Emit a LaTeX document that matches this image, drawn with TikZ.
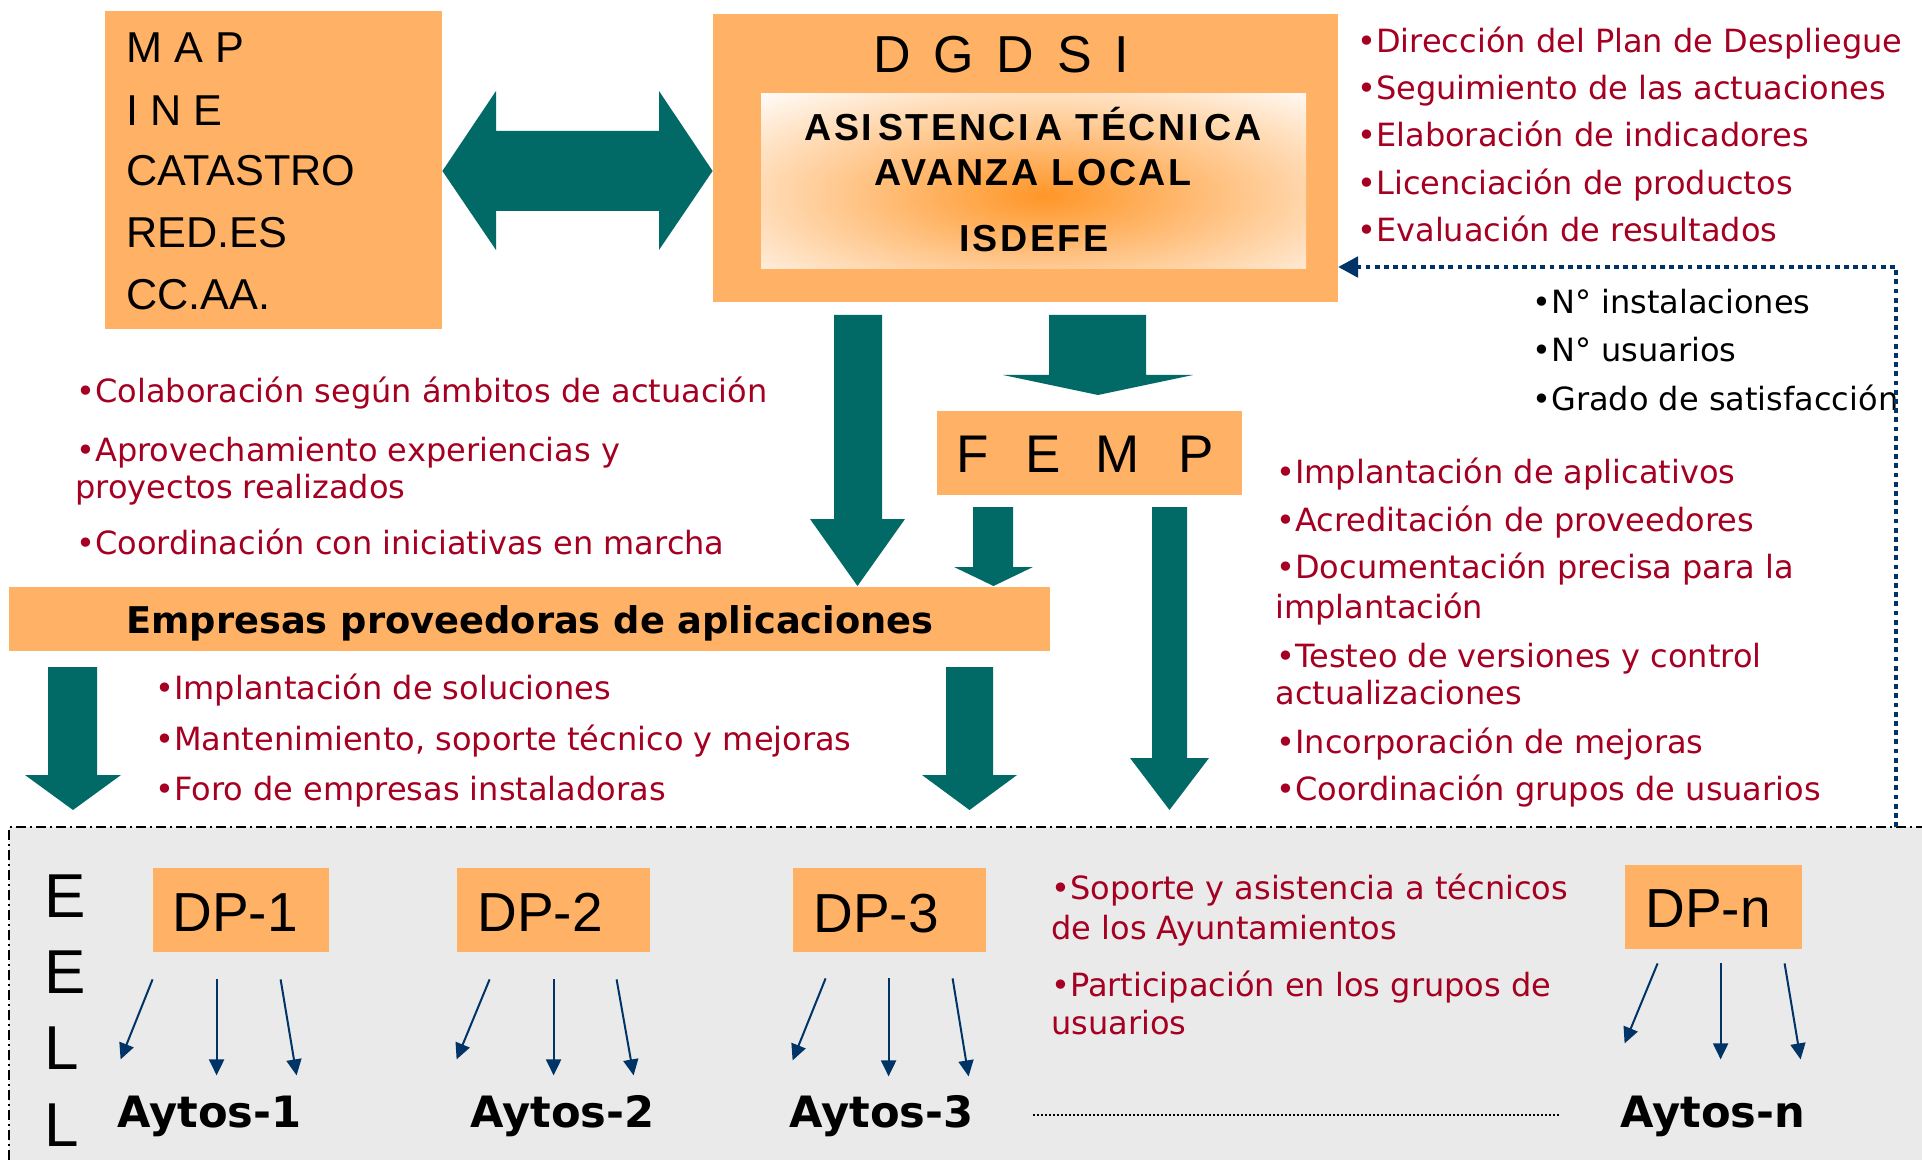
\documentclass[tikz,border=0pt]{standalone}
\usepackage{fontspec}
\setmainfont{DejaVu Sans}
\newfontfamily\libfont{Liberation Sans}
\newfontfamily\libsp[LetterSpace=7]{Liberation Sans}
\usetikzlibrary{arrows.meta,fit}
\definecolor{orng}{RGB}{255,177,102}
\definecolor{tealb}{RGB}{2,106,102}
\definecolor{redt}{RGB}{165,0,33}
\definecolor{dblue}{RGB}{0,51,102}
\definecolor{bggray}{RGB}{234,234,234}
\definecolor{glowc}{RGB}{255,150,40}
% #1 shaft left, #2 shaft right, #3 top, #4 head base, #5 head left, #6 head right, #7 tip y
\newcommand\blkdown[7]{%
  \fill[tealb] (#1,#3) -- (#2,#3) -- (#2,#4) -- (#6,#4) -- ({(#5+#6)/2},#7) -- (#5,#4) -- (#1,#4) -- cycle;}
\begin{document}
\begin{tikzpicture}[x=0.5pt,y=-0.5pt,
  box/.style={fill=orng, draw=none, inner sep=0pt},
  rtxt/.style={text=redt, font=\fontsize{16}{18}\selectfont, anchor=base west, inner sep=0pt},
  btxt/.style={text=black, font=\fontsize{16}{18}\selectfont, anchor=base west, inner sep=0pt},
  maptxt/.style={font=\libfont\fontsize{21.6}{24}\selectfont, anchor=base west, inner sep=0pt},
  dptxt/.style={font=\libfont\fontsize{27.5}{29}\selectfont, anchor=base west, inner sep=0pt},
  eelltxt/.style={font=\libfont\fontsize{31}{33}\selectfont, anchor=base west, inner sep=0pt},
  aytostxt/.style={font=\bfseries\fontsize{21.6}{23}\selectfont, anchor=base west, inner sep=0pt},
  asistxt/.style={font=\libsp\bfseries\fontsize{18.8}{20}\selectfont, anchor=base, inner sep=0pt},
  thinarr/.style={draw=dblue, line width=1pt, -{Triangle[length=8pt,width=7.5pt]}},
]
\useasboundingbox (0,0) rectangle (1922,1160);

% ---------- EELL background ----------
\node[fit={(9,827)(1922,1160)}, inner sep=0pt, fill=bggray] (eellbox) {};
\draw[line width=0.8pt, dash pattern=on 5pt off 2pt on 1pt off 2pt] (9,1160) -- (9,827) -- (1922,827);

% ---------- top boxes ----------
\node[box, fit={(105,11)(442,329)}] (map) {};
\node[maptxt] (t1) at (126,63) {M A P};
\node[maptxt] (t2) at (126,126) {I N E};
\node[maptxt] (t3) at (126,186) {CATASTRO};
\node[maptxt] (t4) at (126,248) {RED.ES};
\node[maptxt] (t5) at (126,310) {CC.AA.};

\node[box, fit={(713,14)(1338,302)}] (dgdsi) {};
\node[fill=white, inner sep=0pt, fit={(761,94)(1306,269)}] (inner) {};
\begin{scope}
  \clip (761,94) rectangle (1306,269);
  \shade[inner color=glowc, outer color=white] (1044,196) ellipse [x radius=215pt, y radius=72pt];
\end{scope}
\node[font=\libfont\fontsize{26}{28}\selectfont, anchor=base west, inner sep=0pt] (dgdsitxt) at (873,73)
  {D\hspace{11.4pt}G\hspace{11.4pt}D\hspace{11.4pt}S\hspace{11.4pt}I};
\node[asistxt] (asis1) at (1033,141) {ASI\kern3pt STENCI\kern3pt A TÉCNI\kern3pt CA};
\node[asistxt] (asis2) at (1033,186) {AVANZA LOCAL};
\node[asistxt] (asis3) at (1034,252) {ISDEFE};

% double arrow MAP <-> DGDSI
\fill[tealb] (map.east |- 0,171) -- (496,91) -- (496,131) -- (659,131) -- (659,91) -- (dgdsi.west |- 0,171)
  -- (659,250) -- (659,211) -- (496,211) -- (496,250) -- cycle;

% ---------- right lists ----------
\node[rtxt] (r1) at (1357,53) {•Dirección del Plan de Despliegue};
\node[rtxt] (r2) at (1357,100) {•Seguimiento de las actuaciones};
\node[rtxt] (r3) at (1357,147) {•Elaboración de indicadores};
\node[rtxt] (r4) at (1357,195) {•Licenciación de productos};
\node[rtxt] (r5) at (1357,242) {•Evaluación de resultados};

\node[btxt] (b1) at (1532,314) {•N° instalaciones};
\node[btxt] (b2) at (1532,362) {•N° usuarios};
\node[btxt] (b3) at (1532,411) {•Grado de satisfacción};

% feedback dotted connector
\coordinate (fbstart) at (1896,827);
\coordinate (fbend) at (1338,267);
\draw[dblue, line width=2.4pt, dash pattern=on 2.4pt off 2.2pt, -{Triangle[length=10pt,width=10pt]}]
  (fbstart) |- (fbend);

% ---------- FEMP ----------
\node[box, fit={(937,411)(1242,495)}] (femp) {};
\node[font=\libfont\fontsize{26.5}{28}\selectfont, anchor=base west, inner sep=0pt] (femptxt) at (956,473)
  {F\hspace{18.3pt}E\hspace{17.3pt}M\hspace{19.4pt}P};

% ---------- left list ----------
\node[rtxt] (l1) at (76,403) {•Colaboración según ámbitos de actuación};
\node[rtxt] (l2) at (76,462) {•Aprovechamiento experiencias y};
\node[rtxt] (l3) at (75,498) {proyectos realizados};
\node[rtxt] (l4) at (76,554) {•Coordinación con iniciativas en marcha};

% ---------- FEMP list ----------
\node[rtxt] (f1) at (1276,483) {•Implantación de aplicativos};
\node[rtxt] (f2) at (1276,531) {•Acreditación de proveedores};
\node[rtxt] (f3) at (1276,578) {•Documentación precisa para la};
\node[rtxt] (f4) at (1275,618) {implantación};
\node[rtxt] (f5) at (1276,667) {•Testeo de versiones y control};
\node[rtxt] (f6) at (1275,704) {actualizaciones};
\node[rtxt] (f7) at (1276,753) {•Incorporación de mejoras};
\node[rtxt] (f8) at (1276,800) {•Coordinación grupos de usuarios};

% ---------- Empresas ----------
\node[box, fit={(9,587)(1050,651)}] (emp) {};
\node[font=\bfseries\fontsize{18.4}{20}\selectfont, anchor=base, inner sep=0pt] (emptxt) at (530,633)
  {Empresas proveedoras de aplicaciones};
\node[rtxt] (e1) at (155,699) {•Implantación de soluciones};
\node[rtxt] (e2) at (155,750) {•Mantenimiento, soporte técnico y mejoras};
\node[rtxt] (e3) at (155,800) {•Foro de empresas instaladoras};

% ---------- block arrows ----------
\blkdown{834}{882}{315}{519}{810}{905}{586}    % DGDSI -> Empresas
\blkdown{1049}{1146}{315}{375}{1003}{1193}{395} % DGDSI -> FEMP
\blkdown{973}{1013}{507}{567}{954}{1033}{586}   % FEMP -> Empresas
\blkdown{1152}{1187}{507}{758}{1130}{1209}{810} % FEMP -> EELL
\blkdown{48}{97}{667}{775}{25}{121}{810}        % Empresas -> EELL (left)
\blkdown{946}{993}{667}{775}{922}{1017}{810}    % Empresas -> EELL (right)

% ---------- EELL content ----------
\node[eelltxt] (ee1) at (44,917) {E};
\node[eelltxt] (ee2) at (44,993) {E};
\node[eelltxt] (ee3) at (44,1069) {L};
\node[eelltxt] (ee4) at (44,1146) {L};

\node[box, fit={(153,868)(329,952)}] (dp1) {};
\node[box, fit={(457,868)(650,952)}] (dp2) {};
\node[box, fit={(793,868)(986,952)}] (dp3) {};
\node[box, fit={(1625,865)(1802,949)}] (dpn) {};
\node[dptxt] (dp1t) at (172,931) {DP-1};
\node[dptxt] (dp2t) at (477,931) {DP-2};
\node[dptxt] (dp3t) at (813,932) {DP-3};
\node[dptxt] (dpnt) at (1645,927) {DP-n};

\foreach \n/\sx/\sy/\ex/\ey in {
  dp1/0/27/-32/107, dp1/64/27/64/123, dp1/128/27/144/123,
  dp2/33/27/0/107, dp2/97/27/97/123, dp2/160/27/177/123,
  dp3/33/26/0/108, dp3/96/26/96/124, dp3/160/26/176/124,
  dpn/33/14/0/94, dpn/96/14/96/110, dpn/160/14/176/110}
  \draw[thinarr] ([shift={(\sx,\sy)}]\n.south west) -- ([shift={(\ex,\ey)}]\n.south west);

\node[aytostxt] (ay1) at (117,1127) {Aytos-1};
\node[aytostxt] (ay2) at (470,1127) {Aytos-2};
\node[aytostxt] (ay3) at (789,1127) {Aytos-3};
\node[aytostxt] (ayn) at (1620,1127) {Aytos-n};
\draw[line width=0.8pt, dash pattern=on 0.8pt off 1.2pt] (1033,1115) -- (1559,1115);

\node[rtxt] (g1) at (1051,899) {•Soporte y asistencia a técnicos};
\node[rtxt] (g2) at (1051,939) {de los Ayuntamientos};
\node[rtxt] (g3) at (1051,996) {•Participación en los grupos de};
\node[rtxt] (g4) at (1051,1034) {usuarios};
\end{tikzpicture}
\end{document}
